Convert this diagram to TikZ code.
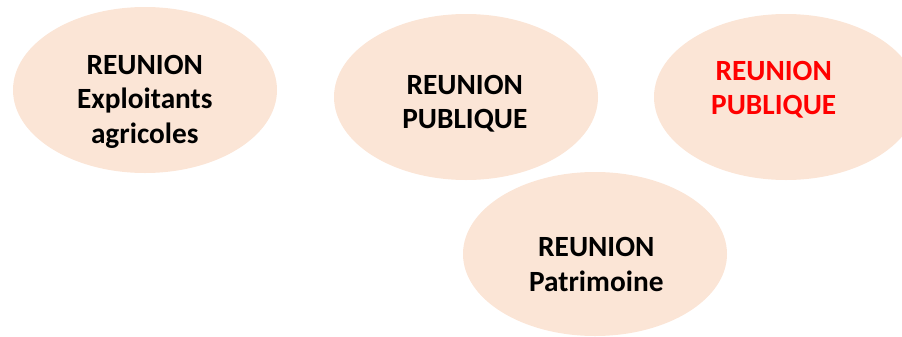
\documentclass[tikz,border=0pt]{standalone}
\usepackage{fontspec}
\setmainfont{Carlito}
\usepackage{xcolor}
\usepackage{tikz}
\usetikzlibrary{shapes.geometric}
\definecolor{bullecolor}{HTML}{FBE5D6}
\definecolor{alertcolor}{HTML}{FF0000}

\begin{document}
\begin{tikzpicture}[
    x=0.75pt, y=-0.75pt,
    bulle/.style={ellipse, fill=bullecolor, minimum width=198pt, minimum height=124.5pt, inner sep=0pt},
    titre/.style={align=center, inner sep=0pt, font=\fontsize{22pt}{25.9pt}\selectfont\bfseries}
]
    \clip (0,0) rectangle (902,336);

    % Ellipses
    \node[bulle] (exploitants) at (145,90) {};
    \node[bulle] (publique) at (466,97) {};
    \node[bulle] (publiquebis) at (786,97) {};
    \node[bulle, minimum height=123pt] (patrimoine) at (595,254) {};

    % Texts
    \node[titre] (txtexploitants) at (144.8,101.8) {REUNION\\Exploitants\\agricoles};
    \node[titre] (txtpublique) at (464.8,103.7) {REUNION\\PUBLIQUE};
    \node[titre, text=alertcolor] (txtpubliquebis) at (773.7,89.7) {REUNION\\PUBLIQUE};
    \node[titre] (txtpatrimoine) at (596.3,264.7) {REUNION\\Patrimoine};
\end{tikzpicture}
\end{document}
